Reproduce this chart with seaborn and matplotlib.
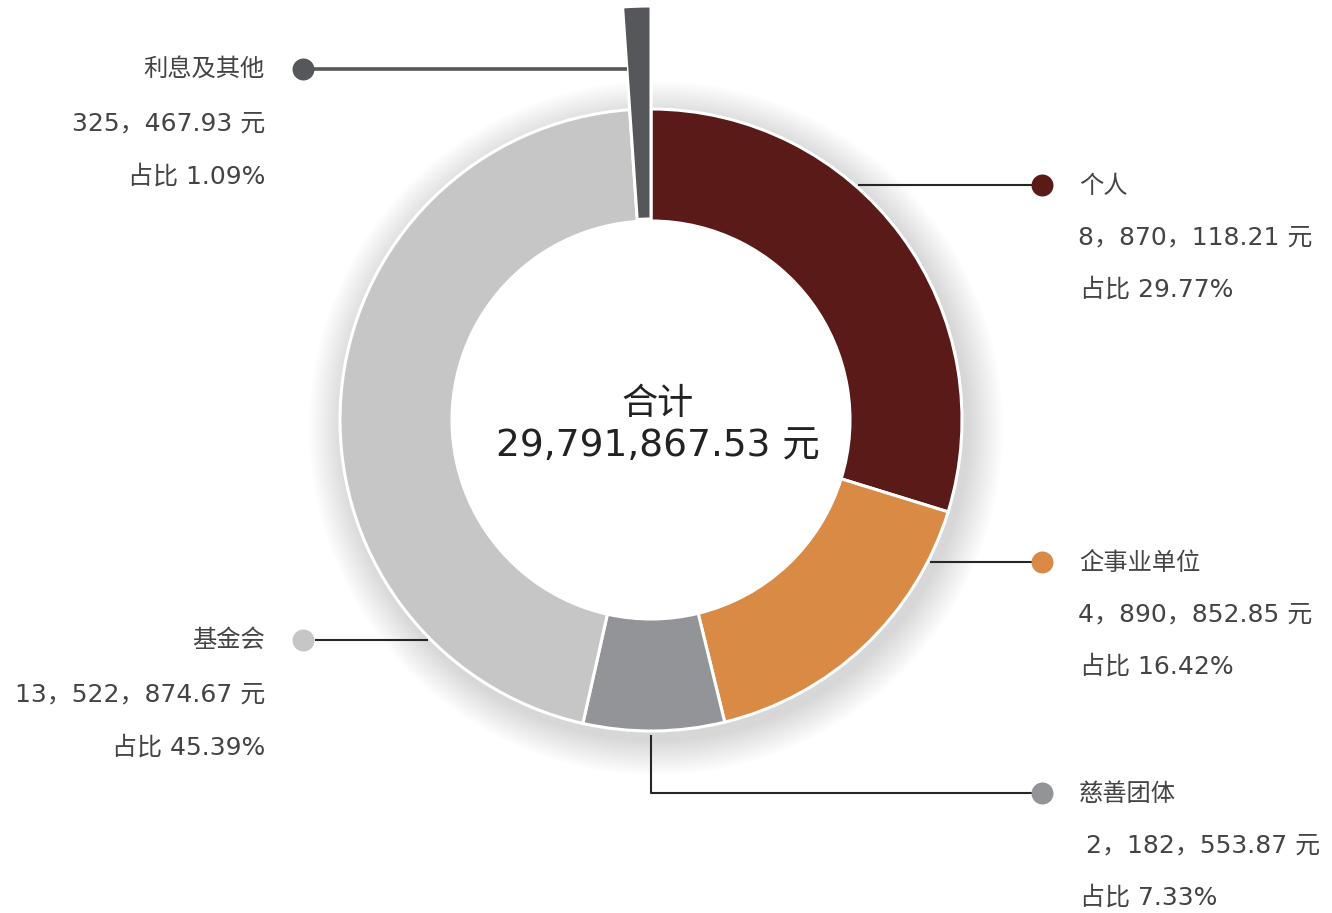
import matplotlib.pyplot as plt
import seaborn as sns
from matplotlib.patches import Circle

# data
categories = ['个人', '企事业单位', '慈善团体', '基金会', '利息及其他']
amounts = [8870118.21, 4890852.85, 2182553.87, 13522874.67, 325467.93]
shares = ['29.77%', '16.42%', '7.33%', '45.39%', '1.09%']
colors = ['#5a1a17', '#d98a45', '#939498', '#c6c6c6', '#55575a']
total_label = '29,791,867.53 元'

sns.set_theme(style='white')
plt.rcParams['font.family'] = ['DejaVu Sans', 'Noto Sans CJK SC']

W, H = 1332, 913
fig = plt.figure(figsize=(W / 100, H / 100), dpi=100)
ax = fig.add_axes([0, 0, 1, 1])

cx, cy = 651, H - 420
r_out, r_in = 311, 199

# soft shadow under the ring
for i in range(20):
    ax.add_patch(Circle((cx + 5, cy - 8), r_out + 2 + i * 1.8, color='black',
                        alpha=0.008, lw=0, zorder=0))
ax.add_patch(Circle((cx, cy), r_in + 1, color='white', lw=0, zorder=1))

wedges, _ = ax.pie(amounts, colors=colors, startangle=90, counterclock=False,
                   radius=r_out, center=(cx, cy),
                   wedgeprops=dict(width=r_out - r_in, edgecolor='white', linewidth=2.2))
for w in wedges:
    w.set_zorder(2)
# the small slice sticks out
wedges[-1].set_radius(414)
wedges[-1].set_width(414 - 201)

ax.set_xlim(0, W)
ax.set_ylim(0, H)
ax.set_aspect('equal')
ax.axis('off')

# centre text
ax.text(658, H - 404, '合计', ha='center', va='center', fontsize=26, color='#222222')
ax.text(658, H - 446, total_label, ha='center', va='center', fontsize=27, color='#222222')

txt_col = '#444444'
fs_cat = 17.5
fs = 18


def amount_text(v):
    return f'{v:,.2f}'.replace(',', '，') + ' 元'


# leader lines and dots
line_col = '#262626'
right_items = [(0, 185, [(858, 185), (1042, 185)]),
               (1, 562, [(930, 562), (1042, 562)]),
               (2, 793, [(651, 735), (651, 793), (1042, 793)])]
for idx, yp, pts in right_items:
    xs = [p[0] for p in pts]
    ys = [H - p[1] for p in pts]
    ax.plot(xs, ys, color=line_col, lw=1.5, zorder=3, solid_capstyle='butt')
    ax.scatter([1042], [H - yp], s=250, color=colors[idx], zorder=4, lw=0)
    pre = ' ' if idx == 2 else ''
    ax.text(1079, H - yp - 1, categories[idx], ha='left', va='center', fontsize=fs_cat,
            color=txt_col)
    ax.text(1078, H - yp - 52, pre + amount_text(amounts[idx]), ha='left', va='center',
            fontsize=fs, color=txt_col)
    ax.text(1080, H - yp - 105, '占比 ' + shares[idx], ha='left', va='center',
            fontsize=fs, color=txt_col)

left_items = [(4, 69, [(303, 69), (627, 69)], '#555759', 2.6),
              (3, 640, [(315, 640), (428, 640)], line_col, 1.5)]
for idx, yp, pts, lc, lw in left_items:
    xs = [p[0] for p in pts]
    ys = [H - p[1] for p in pts]
    ax.plot(xs, ys, color=lc, lw=lw, zorder=3, solid_capstyle='butt')
    ax.scatter([303], [H - yp], s=250, color=colors[idx], zorder=4, lw=0)
    ax.text(265, H - yp, categories[idx], ha='right', va='center', fontsize=fs_cat,
            color=txt_col)
    ax.text(265, H - yp - 54, amount_text(amounts[idx]), ha='right', va='center',
            fontsize=fs, color=txt_col)
    ax.text(265, H - yp - 108, '占比 ' + shares[idx], ha='right', va='center',
            fontsize=fs, color=txt_col)

fig.savefig('out.png', dpi=100, facecolor='white')
